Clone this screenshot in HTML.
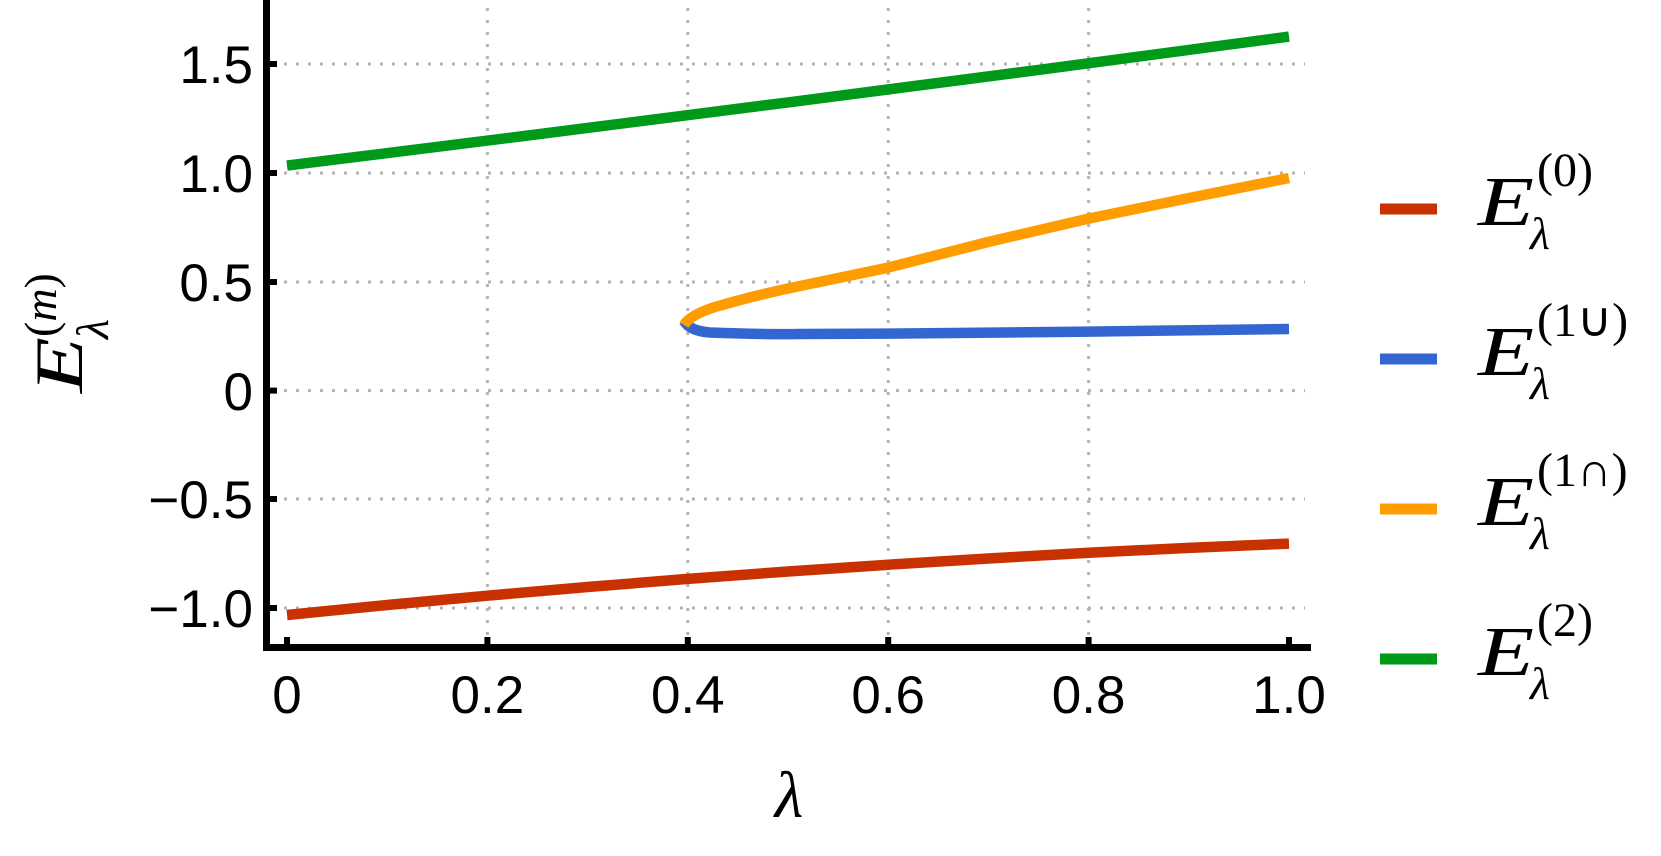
<!DOCTYPE html>
<html><head><meta charset="utf-8"><style>
html,body{margin:0;padding:0;background:#fff;}
svg{display:block;}
.t{font-family:"Liberation Sans",sans-serif;font-size:53px;fill:#000;}
.m{font-family:"Liberation Serif",serif;font-style:italic;fill:#000;}
.r{font-family:"Liberation Serif",serif;fill:#000;}
</style></head><body>
<svg width="1661" height="856" viewBox="0 0 1661 856" xmlns="http://www.w3.org/2000/svg">
<g stroke="#b4b4b4" stroke-width="3" stroke-dasharray="3,9" fill="none">
<line x1="272" y1="64" x2="1305" y2="64"/>
<line x1="272" y1="173" x2="1305" y2="173"/>
<line x1="272" y1="282" x2="1305" y2="282"/>
<line x1="272" y1="390.6" x2="1305" y2="390.6"/>
<line x1="272" y1="499" x2="1305" y2="499"/>
<line x1="272" y1="608" x2="1305" y2="608"/>
<line x1="487.4" y1="8" x2="487.4" y2="644"/>
<line x1="687.8" y1="8" x2="687.8" y2="644"/>
<line x1="888.2" y1="8" x2="888.2" y2="644"/>
<line x1="1088.6" y1="8" x2="1088.6" y2="644"/>
</g>
<g stroke="#000" stroke-width="7" fill="none">
<line x1="266.5" y1="0" x2="266.5" y2="651"/>
<line x1="263" y1="647.5" x2="1311" y2="647.5"/>
</g>
<g stroke="#000" stroke-width="6">
<line x1="287" y1="644" x2="287" y2="637"/><line x1="487.4" y1="644" x2="487.4" y2="637"/>
<line x1="687.8" y1="644" x2="687.8" y2="637"/><line x1="888.2" y1="644" x2="888.2" y2="637"/>
<line x1="1088.6" y1="644" x2="1088.6" y2="637"/><line x1="1289" y1="644" x2="1289" y2="637"/>
<line x1="270" y1="64" x2="277" y2="64"/><line x1="270" y1="173" x2="277" y2="173"/>
<line x1="270" y1="282" x2="277" y2="282"/><line x1="270" y1="390.6" x2="277" y2="390.6"/>
<line x1="270" y1="499" x2="277" y2="499"/><line x1="270" y1="608" x2="277" y2="608"/>
</g>
<g class="t" text-anchor="end">
<text x="253" y="83">1.5</text><text x="253" y="192">1.0</text><text x="253" y="301">0.5</text>
<text x="253" y="410">0</text><text x="253" y="518">−0.5</text><text x="253" y="627">−1.0</text>
</g>
<g class="t" text-anchor="middle">
<text x="287" y="713">0</text><text x="487.4" y="713">0.2</text><text x="687.8" y="713">0.4</text>
<text x="888.2" y="713">0.6</text><text x="1088.6" y="713">0.8</text><text x="1289" y="713">1.0</text>
</g>
<text class="m" x="789" y="817" font-size="66" text-anchor="middle">λ</text>
<g transform="translate(82,393) rotate(-90)">
<text class="m" x="0" y="0" font-size="68" textLength="56" lengthAdjust="spacingAndGlyphs">E</text>
<text class="m" x="54" y="26" font-size="46">λ</text>
<text class="r" x="56" y="-26" font-size="46">(<tspan class="m">m</tspan>)</text>
</g>
<g fill="none" stroke-width="10.5" stroke-linecap="butt" stroke-linejoin="round">
<polyline stroke="#009a1a" points="287,165.6 537.5,134.3 788,102.4 1038.5,69.9 1289,36.6"/>
<polyline stroke="#c93200" points="287,615 387.2,605 487.4,595.7 587.6,587 687.8,578.9 788,571.5 888.2,564.7 988.4,558.5 1088.6,552.7 1188.8,547.9 1289,543.6"/>
<path stroke="#3366d1" d="M684,321 Q690,331 710,332.5 Q760,334.5 800,334 L888,333.6 L1089,331.6 L1289,329"/>
<path stroke="#ff9c00" d="M684,325 Q690,315 715,307 Q760,294 800,286 L888,267.7 L988,242 L1089,218.5 L1189,198 L1289,178"/>
</g>
<g stroke-width="11">
<line x1="1380" y1="209" x2="1437" y2="209" stroke="#c93200"/>
<line x1="1380" y1="359" x2="1437" y2="359" stroke="#3366d1"/>
<line x1="1380" y1="509" x2="1437" y2="509" stroke="#ff9c00"/>
<line x1="1380" y1="659" x2="1437" y2="659" stroke="#009a1a"/>
</g>
<g>
<text class="m" x="1478" y="225" font-size="70" textLength="56" lengthAdjust="spacingAndGlyphs">E</text><text class="m" x="1530" y="249" font-size="46">λ</text><text class="r" x="1537" y="186" font-size="48">(0)</text>
<text class="m" x="1478" y="375" font-size="70" textLength="56" lengthAdjust="spacingAndGlyphs">E</text><text class="m" x="1530" y="399" font-size="46">λ</text><text class="r" x="1537" y="336" font-size="48">(1∪)</text>
<text class="m" x="1478" y="525" font-size="70" textLength="56" lengthAdjust="spacingAndGlyphs">E</text><text class="m" x="1530" y="549" font-size="46">λ</text><text class="r" x="1537" y="486" font-size="48">(1∩)</text>
<text class="m" x="1478" y="675" font-size="70" textLength="56" lengthAdjust="spacingAndGlyphs">E</text><text class="m" x="1530" y="699" font-size="46">λ</text><text class="r" x="1537" y="636" font-size="48">(2)</text>
</g>
</svg>
</body></html>
